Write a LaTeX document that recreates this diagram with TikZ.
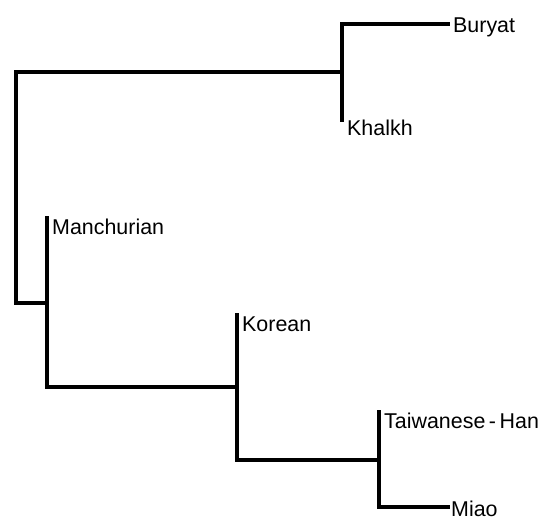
\documentclass[tikz,border=0pt]{standalone}
\usepackage{fontspec}
\setmainfont{Liberation Sans}
\begin{document}
\begin{tikzpicture}[x=1bp,y=-1bp,
  branch/.style={line width=3.2bp,line cap=rect,line join=miter},
  taxon/.style={anchor=base west,inner sep=0pt,font=\fontsize{21.5}{25}\selectfont}]
\useasboundingbox (0,0) rectangle (552,520);
% junction and tip points of the tree
\coordinate (r1) at (16,72);
\coordinate (r2) at (16,303);
\coordinate (a)  at (342,72);
\coordinate (a1) at (342,24);
\coordinate (bur) at (448,24);
\coordinate (khal) at (342,120);
\coordinate (b)  at (47,303);
\coordinate (man) at (47,218);
\coordinate (b2) at (47,387);
\coordinate (c)  at (237,387);
\coordinate (kor) at (237,315);
\coordinate (c2) at (237,460);
\coordinate (d)  at (379,460);
\coordinate (tw) at (379,412);
\coordinate (mi) at (379,507);
\coordinate (mia) at (448,507);
% branches
\draw[branch] (a) -- (r1) -- (r2) -- (b);
\draw[branch] (bur) -- (a1) -- (khal);
\draw[branch] (man) -- (b2) -- (c);
\draw[branch] (kor) -- (c2) -- (d);
\draw[branch] (tw) -- (mi) -- (mia);
% taxon labels
\node[taxon] (tBur) at (453,33) {Buryat};
\node[taxon] (tKha) at (347,136) {Khalkh};
\node[taxon] (tMan) at (52,234) {Manchurian};
\node[taxon] (tKor) at (242,331) {Korean};
\node[taxon] (tTai) at (384,428) {Taiwanese\,-\,Han};
\node[taxon] (tMia) at (451,516.5) {Miao};
\end{tikzpicture}
\end{document}
